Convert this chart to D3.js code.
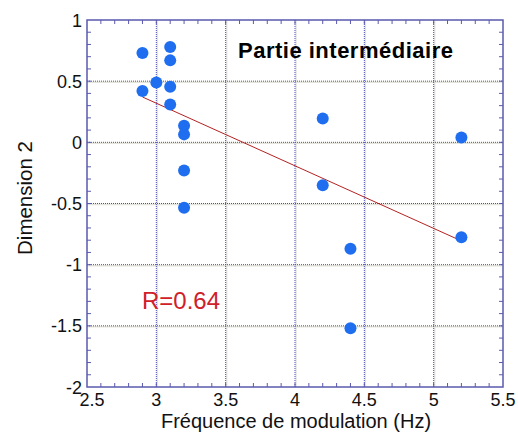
<!DOCTYPE html>
<html><head><meta charset="utf-8">
<script src="https://cdn.jsdelivr.net/npm/d3@7"></script>
<style>body{margin:0;background:#fff}svg{display:block}text{font-family:"Liberation Sans",Arial,sans-serif}</style>
</head><body><svg id="c" width="518" height="434"></svg>
<script>
const freq = [2.9, 2.9, 3.0, 3.1, 3.1, 3.1, 3.1, 3.2, 3.2, 3.2, 3.2, 4.2, 4.2, 4.4, 4.4, 5.2, 5.2];
const dim2 = [0.73, 0.42, 0.49, 0.78, 0.67, 0.455, 0.31, 0.135, 0.065, -0.23, -0.535, 0.195, -0.35, -0.87, -1.52, 0.04, -0.775];
const xTicks = [2.5, 3, 3.5, 4, 4.5, 5, 5.5];
const yTicks = [-2, -1.5, -1, -0.5, 0, 0.5, 1];
const title = "Partie intermédiaire";
const rLabel = "R=0.64";
const xLabel = "Fréquence de modulation (Hz)";
const yLabel = "Dimension 2";

const L = 87, R = 503, T = 20, B = 387;
const svg = d3.select("#c");
const x = d3.scaleLinear().domain([2.5, 5.5]).range([L, R]);
const y = d3.scaleLinear().domain([-2, 1]).range([B, T]);
const frame = "#5a5aae", grid = "#4a4ac8";

// grid
const g = svg.append("g");
g.selectAll(".gx").data(xTicks.slice(1, -1)).join("line")
  .attr("x1", d => x(d) + 1).attr("x2", d => x(d) + 1).attr("y1", T).attr("y2", B)
  .attr("stroke", "#e4e4dc").attr("stroke-width", 1.5);
g.selectAll(".gy").data(yTicks.slice(1, -1)).join("line")
  .attr("y1", d => y(d) + 1).attr("y2", d => y(d) + 1).attr("x1", L).attr("x2", R)
  .attr("stroke", "#e4e4dc").attr("stroke-width", 1.5);
g.selectAll(".gx2").data(xTicks.slice(1, -1)).join("line")
  .attr("x1", d => x(d)).attr("x2", d => x(d)).attr("y1", T).attr("y2", B)
  .attr("stroke", grid).attr("stroke-dasharray", "1,1");
g.selectAll(".gy2").data(yTicks.slice(1, -1)).join("line")
  .attr("y1", d => y(d)).attr("y2", d => y(d)).attr("x1", L).attr("x2", R)
  .attr("stroke", grid).attr("stroke-dasharray", "1,1");

// minor ticks
const xMinor = d3.range(26, 55).map(v => v / 10);
const yMinor = d3.range(-19, 10).map(v => v / 10);
const tk = svg.append("g").attr("stroke", frame).attr("stroke-width", 1);
tk.selectAll(".xb").data(xMinor).join("line").attr("x1", d => x(d)).attr("x2", d => x(d)).attr("y1", B).attr("y2", B - 4);
tk.selectAll(".xt").data(xMinor).join("line").attr("x1", d => x(d)).attr("x2", d => x(d)).attr("y1", T).attr("y2", T + 4);
tk.selectAll(".yl").data(yMinor).join("line").attr("y1", d => y(d)).attr("y2", d => y(d)).attr("x1", L).attr("x2", L + 4);
tk.selectAll(".yr").data(yMinor).join("line").attr("y1", d => y(d)).attr("y2", d => y(d)).attr("x1", R).attr("x2", R - 4);

// frame
svg.append("rect").attr("x", L).attr("y", T).attr("width", R - L).attr("height", B - T)
  .attr("fill", "none").attr("stroke", frame).attr("stroke-width", 1.5);

// tick labels
svg.append("g").selectAll("text").data(xTicks).join("text")
  .attr("x", (d, i) => x(d) + (i === 0 ? 5 : 0)).attr("y", B + 19).attr("text-anchor", "middle")
  .attr("font-size", 18).attr("fill", "#111").text(d => d);
svg.append("g").selectAll("text").data(yTicks).join("text")
  .attr("x", L - 5).attr("y", d => y(d) + 6.5).attr("text-anchor", "end")
  .attr("font-size", 18).attr("fill", "#111").text(d => d);

// regression line
const mx = d3.mean(freq), my = d3.mean(dim2);
const sxy = d3.sum(freq, (v, i) => (v - mx) * (dim2[i] - my));
const sxx = d3.sum(freq, v => (v - mx) * (v - mx));
const slope = sxy / sxx, icpt = my - slope * mx;
const [x0, x1] = d3.extent(freq);
svg.append("line").attr("x1", x(x0)).attr("y1", y(icpt + slope * x0))
  .attr("x2", x(x1)).attr("y2", y(icpt + slope * x1))
  .attr("stroke", "#b22222").attr("stroke-width", 1);

// points
svg.append("g").selectAll("circle").data(freq).join("circle")
  .attr("cx", d => x(d)).attr("cy", (d, i) => y(dim2[i])).attr("r", 6)
  .attr("fill", "#1f6ef0");

// texts
svg.append("text").attr("x", 238).attr("y", 58).attr("font-size", 22).attr("font-weight", "bold")
  .attr("letter-spacing", 0.5).attr("fill", "#000").text(title);
svg.append("text").attr("x", 142).attr("y", 309).attr("font-size", 24).attr("fill", "#d0202a").text(rLabel);
svg.append("text").attr("x", 296).attr("y", 428).attr("text-anchor", "middle").attr("font-size", 20)
  .attr("fill", "#111").text(xLabel);
svg.append("text").attr("transform", "translate(32,198) rotate(-90)").attr("text-anchor", "middle")
  .attr("font-size", 20.5).attr("fill", "#111").text(yLabel);
</script></body></html>
